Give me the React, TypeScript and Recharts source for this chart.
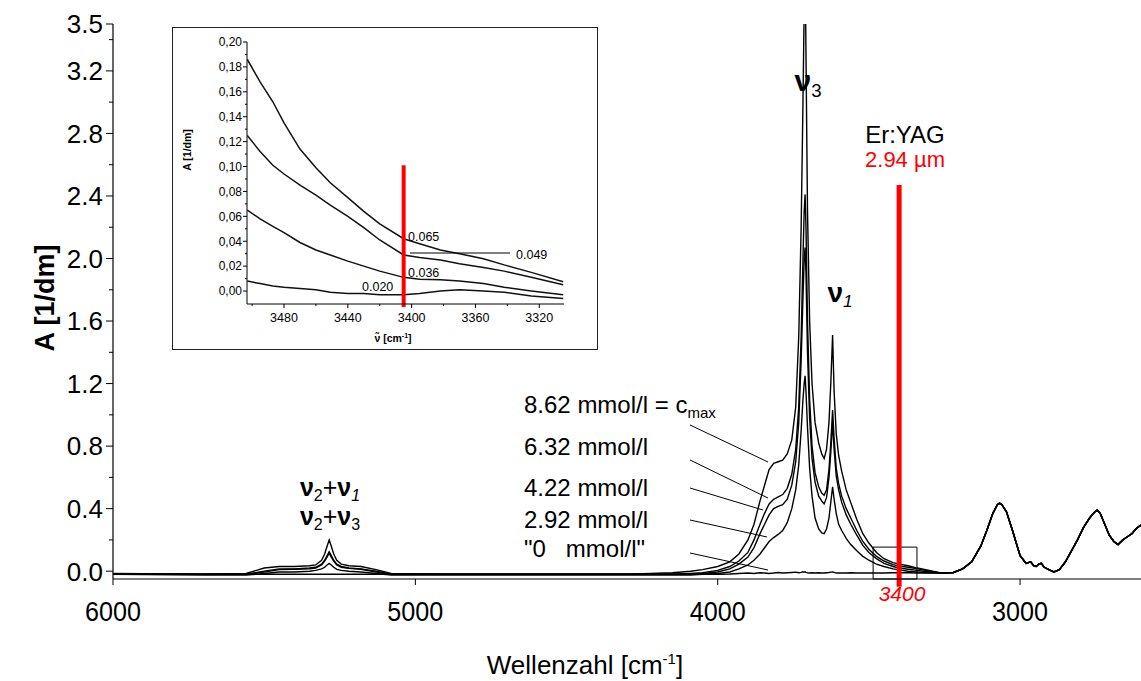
import React from "react";
import {
  LineChart,
  Line,
  XAxis,
  YAxis,
  ReferenceLine,
  ReferenceArea,
} from "recharts";

// Wavenumbers (cm-1) for the water region, 6000 down to 3300
const waterGrid = [
  6000, 5700, 5560, 5500, 5450, 5400, 5350, 5330, 5310, 5300,
  5292, 5285, 5278, 5270, 5260, 5245, 5220, 5180, 5130, 5080,
  4900, 4600, 4300, 4150, 4090, 4050, 4000, 3960, 3930, 3900,
  3880, 3860, 3845, 3830, 3815, 3800, 3785, 3770, 3755, 3742,
  3732, 3724, 3718, 3714, 3711, 3708, 3703, 3696, 3688, 3678,
  3666, 3656, 3648, 3640, 3632, 3626, 3620, 3615, 3608, 3600,
  3590, 3575, 3560, 3540, 3520, 3500, 3475, 3450, 3420, 3400,
  3370, 3340, 3300,
];

// 8.62 mmol/l = c_max
const c862 = [
  -0.02, -0.02, -0.015, 0.02, 0.03, 0.03, 0.035, 0.04, 0.07, 0.11,
  0.16, 0.2, 0.16, 0.11, 0.07, 0.045, 0.035, 0.03, 0.01, -0.015,
  -0.02, -0.02, -0.02, -0.01, 0.0, 0.01, 0.03, 0.06, 0.11, 0.2,
  0.3, 0.45, 0.55, 0.65, 0.69, 0.7, 0.71, 0.75, 0.84, 1.05,
  1.5, 2.2, 3.0, 3.6, 3.9, 3.3, 2.3, 1.6, 1.2, 0.95,
  0.82, 0.75, 0.72, 0.78, 0.95, 1.2, 1.51, 1.15, 0.88, 0.74,
  0.64, 0.52, 0.44, 0.33, 0.24, 0.18, 0.12, 0.08, 0.055, 0.045,
  0.035, 0.02, 0.005,
];

// 6.32 mmol/l
const c632 = [
  -0.02, -0.02, -0.02, 0.0, 0.015, 0.015, 0.02, 0.025, 0.045, 0.07,
  0.1, 0.125, 0.1, 0.07, 0.045, 0.03, 0.02, 0.015, 0.0, -0.02,
  -0.02, -0.02, -0.02, -0.02, -0.015, -0.01, 0.005, 0.03, 0.065, 0.12,
  0.2, 0.3, 0.37, 0.43, 0.46, 0.475, 0.49, 0.53, 0.62, 0.78,
  1.05, 1.5, 2.0, 2.3, 2.41, 2.2, 1.6, 1.1, 0.8, 0.63,
  0.54, 0.5, 0.485, 0.52, 0.65, 0.82, 1.03, 0.85, 0.66, 0.56,
  0.48, 0.4, 0.34, 0.26, 0.19, 0.14, 0.095, 0.065, 0.042, 0.032,
  0.025, 0.015, 0.0,
];

// 4.22 mmol/l
const c422 = [
  -0.02, -0.02, -0.02, -0.005, 0.01, 0.012, 0.015, 0.02, 0.04, 0.065,
  0.09, 0.115, 0.09, 0.065, 0.04, 0.025, 0.018, 0.012, -0.005, -0.02,
  -0.02, -0.02, -0.02, -0.02, -0.02, -0.015, -0.005, 0.015, 0.045, 0.09,
  0.15, 0.24, 0.3, 0.36, 0.4, 0.415, 0.425, 0.46, 0.55, 0.7,
  0.95, 1.35, 1.75, 2.0, 2.07, 1.9, 1.4, 0.98, 0.72, 0.57,
  0.48, 0.45, 0.43, 0.47, 0.6, 0.76, 0.95, 0.78, 0.61, 0.52,
  0.44, 0.36, 0.3, 0.23, 0.165, 0.12, 0.08, 0.05, 0.03, 0.02,
  0.012, 0.005, -0.005,
];

// 2.92 mmol/l
const c292 = [
  -0.02, -0.025, -0.025, -0.015, -0.005, -0.005, 0.0, 0.005, 0.015, 0.025,
  0.04, 0.05, 0.04, 0.025, 0.012, 0.005, 0.0, -0.005, -0.015, -0.025,
  -0.025, -0.025, -0.025, -0.025, -0.025, -0.02, -0.015, -0.005, 0.015, 0.04,
  0.07, 0.11, 0.15, 0.19, 0.215, 0.235, 0.26, 0.31, 0.4, 0.52,
  0.68, 0.9, 1.1, 1.2, 1.25, 1.15, 0.92, 0.66, 0.48, 0.34,
  0.27, 0.245, 0.24, 0.27, 0.34, 0.44, 0.54, 0.46, 0.37, 0.3,
  0.26, 0.21, 0.17, 0.13, 0.095, 0.07, 0.045, 0.03, 0.015, 0.008,
  0.0, -0.005, -0.01,
];

// "0 mmol/l" reference
const c0 = [
  -0.015, -0.02, -0.02, -0.02, -0.02, -0.02, -0.02, -0.02, -0.02, -0.02,
  -0.02, -0.02, -0.02, -0.02, -0.02, -0.02, -0.02, -0.02, -0.02, -0.02,
  -0.02, -0.02, -0.02, -0.02, -0.02, -0.02, -0.02, -0.018, -0.015, -0.012,
  -0.015, -0.01, -0.012, -0.015, -0.012, -0.008, -0.012, -0.01, -0.008, -0.006,
  -0.01, -0.008, -0.004, -0.006, -0.004, -0.008, -0.01, -0.012, -0.01, -0.012,
  -0.01, -0.012, -0.012, -0.01, -0.008, -0.006, -0.005, -0.008, -0.012, -0.012,
  -0.012, -0.012, -0.01, -0.012, -0.012, -0.012, -0.012, -0.012, -0.01, -0.01,
  -0.01, -0.012, -0.012,
];

// Solvent bands below 3300 cm-1, common to all samples
const solventGrid = [
  3260, 3220, 3190, 3160, 3130, 3110, 3090, 3075, 3068, 3060,
  3045, 3025, 3000, 2980, 2965, 2955, 2947, 2938, 2930, 2920,
  2905, 2888, 2870, 2850, 2830, 2810, 2790, 2770, 2755, 2745,
  2735, 2722, 2705, 2690, 2676, 2660, 2645, 2630, 2615, 2600,
];
const solventBand = [
  -0.012, -0.008, 0.015, 0.06, 0.16, 0.26, 0.37, 0.425, 0.435, 0.425,
  0.38, 0.26, 0.1, 0.05, 0.06, 0.035, 0.03, 0.045, 0.05, 0.025,
  0.01, -0.005, 0.01, 0.06, 0.13, 0.2, 0.28, 0.34, 0.375, 0.39,
  0.37, 0.31, 0.23, 0.19, 0.17, 0.2, 0.22, 0.24, 0.275, 0.295,
];

// Zoomed window around the Er:YAG line
const insetGrid = [3503, 3495, 3487, 3480, 3470, 3460, 3451, 3440, 3430, 3420, 3405, 3395, 3382, 3370, 3355, 3342, 3325, 3305];
const insetC862 = [0.186, 0.168, 0.152, 0.135, 0.114, 0.099, 0.087, 0.075, 0.064, 0.054, 0.042, 0.038, 0.033, 0.03, 0.026, 0.021, 0.015, 0.0075];
const insetC632 = [0.125, 0.112, 0.101, 0.094, 0.085, 0.077, 0.069, 0.06, 0.051, 0.041, 0.029, 0.027, 0.025, 0.022, 0.019, 0.016, 0.011, 0.005];
const insetC422 = [0.065, 0.058, 0.052, 0.047, 0.039, 0.033, 0.029, 0.024, 0.02, 0.016, 0.011, 0.0095, 0.009, 0.008, 0.006, 0.003, 0.0, -0.003];
const insetC292 = [0.008, 0.006, 0.004, 0.003, 0.002, 0.001, -0.001, -0.002, -0.002, -0.003, -0.003, -0.002, 0.0, 0.001, 0.0, -0.001, -0.004, -0.006];
const insetReadings = ["0.065", "0.049", "0.036", "0.020"];

const concLabels = ["6.32 mmol/l", "4.22 mmol/l", "2.92 mmol/l"];

const mainYTicks = [0, 0.2, 0.4, 0.6, 0.8, 1.0, 1.2, 1.4, 1.6, 1.8, 2.0, 2.2, 2.4, 2.6, 2.8, 3.0, 3.2, 3.4, 3.5];
const mainYMajor = [0, 0.4, 0.8, 1.2, 1.6, 2.0, 2.4, 2.8, 3.2, 3.5];
const mainXTicks = [6000, 5000, 4000, 3000];
const insetYTicks = Array.from({ length: 21 }, (_, i) => i / 100);
const insetXTicks = [3500, 3480, 3460, 3440, 3420, 3400, 3380, 3360, 3340, 3320];

const rows = [
  ...waterGrid.map((w, i) => ({ w, c862: c862[i], c632: c632[i], c422: c422[i], c292: c292[i], c0: c0[i] })),
  ...solventGrid.map((w, i) => ({
    w,
    c862: solventBand[i],
    c632: solventBand[i],
    c422: solventBand[i],
    c292: solventBand[i],
    c0: solventBand[i],
  })),
];

const insetRows = insetGrid.map((w, i) => ({
  w,
  c862: insetC862[i],
  c632: insetC632[i],
  c422: insetC422[i],
  c292: insetC292[i],
}));

const FONT = "'Liberation Sans', Arial, sans-serif";
const seriesKeys = ["c862", "c632", "c422", "c292", "c0"];

const MainYTick = ({ x, y, payload }: any) => {
  const major = mainYMajor.some((m) => Math.abs(m - payload.value) < 1e-6);
  return (
    <g>
      <line x1={x - (major ? 7 : 4)} x2={x} y1={y} y2={y} stroke="#000" strokeWidth={1} />
      {major && (
        <text x={x - 10} y={y} dy="0.36em" textAnchor="end" fontSize={26} fontFamily={FONT} fill="#000">
          {payload.value.toFixed(1)}
        </text>
      )}
    </g>
  );
};

const MainXTick = ({ x, y, payload }: any) => (
  <g>
    <line x1={x} x2={x} y1={y} y2={y + 6} stroke="#000" strokeWidth={1} />
    <text x={x} y={y + 42} textAnchor="middle" fontSize={28} fontFamily={FONT} fill="#000"
      textLength={56} lengthAdjust="spacingAndGlyphs">
      {payload.value}
    </text>
  </g>
);

const InsetYTick = ({ x, y, payload }: any) => {
  const k = Math.round(payload.value * 100);
  const major = k % 2 === 0;
  return (
    <g>
      <line x1={x - (major ? 4 : 2)} x2={x} y1={y} y2={y} stroke="#000" strokeWidth={1} />
      {major && (
        <text x={x - 5} y={y} dy="0.36em" textAnchor="end" fontSize={12} fontFamily={FONT} fill="#000">
          {"0," + String(k).padStart(2, "0")}
        </text>
      )}
    </g>
  );
};

const InsetXTick = ({ x, y, payload }: any) => {
  const major = payload.value % 40 === 0;
  return (
    <g>
      <line x1={x} x2={x} y1={y} y2={y + (major ? 4 : 2)} stroke="#000" strokeWidth={1} />
      {major && (
        <text x={x} y={y + 18} textAnchor="middle" fontSize={12.5} fontFamily={FONT} fill="#000">
          {payload.value}
        </text>
      )}
    </g>
  );
};

const Nu = ({ sub, italic }: { sub: string; italic?: boolean }) => (
  <>
    <tspan fontWeight="bold">ν</tspan>
    <tspan fontSize="0.62em" dy="0.3em" fontStyle={italic ? "italic" : "normal"}>{sub}</tspan>
    <tspan dy="-0.3em"> </tspan>
  </>
);

export default function App() {
  return (
    <div style={{ position: "absolute", left: 0, top: 0, width: 1141, height: 681, background: "#fff", overflow: "hidden" }}>
      <LineChart width={1141} height={681} data={rows} margin={{ top: 24, right: 0, bottom: 42, left: 0 }}>
        <XAxis
          dataKey="w"
          type="number"
          domain={[2600, 6000]}
          reversed
          allowDataOverflow
          ticks={mainXTicks}
          interval={0}
          height={60}
          tickSize={0}
          tickMargin={0}
          tickLine={false}
          axisLine={{ stroke: "#000", strokeWidth: 1.2 }}
          tick={<MainXTick />}
        />
        <YAxis
          type="number"
          domain={[-0.05, 3.5]}
          allowDataOverflow
          ticks={mainYTicks}
          interval={0}
          width={113}
          tickSize={0}
          tickMargin={0}
          tickLine={false}
          axisLine={{ stroke: "#000", strokeWidth: 1.2 }}
          tick={<MainYTick />}
        />
        <ReferenceArea x1={3486} x2={3341} y1={-0.05} y2={0.154} fill="none" fillOpacity={0} stroke="#000" strokeWidth={1} ifOverflow="visible" />
        {seriesKeys.map((k) => (
          <Line key={k} dataKey={k} type="linear" stroke="#000" strokeWidth={1.4} dot={false} isAnimationActive={false} />
        ))}
        <ReferenceLine
          segment={[{ x: 3400, y: 2.47 }, { x: 3400, y: -0.1 }]}
          stroke="#ff0000"
          strokeWidth={5}
          ifOverflow="visible"
        />
      </LineChart>

      {/* inset: absorbance near 3400 cm-1 */}
      <div style={{ position: "absolute", left: 172, top: 27, width: 426, height: 323, border: "1px solid #222", boxSizing: "border-box", background: "#fff" }}>
        <LineChart width={424} height={321} data={insetRows} margin={{ top: 14, right: 33, bottom: 15, left: 0 }}>
          <XAxis
            dataKey="w"
            type="number"
            domain={[3304.5, 3503.2]}
            reversed
            allowDataOverflow
            ticks={insetXTicks}
            interval={0}
            height={30}
            tickSize={0}
            tickMargin={0}
            tickLine={false}
            axisLine={{ stroke: "#000" }}
            tick={<InsetXTick />}
          />
          <YAxis
            type="number"
            domain={[-0.0104, 0.2]}
            allowDataOverflow
            ticks={insetYTicks}
            interval={0}
            width={74}
            tickSize={0}
            tickMargin={0}
            tickLine={false}
            axisLine={{ stroke: "#000" }}
            tick={<InsetYTick />}
          />
          {["c862", "c632", "c422", "c292"].map((k) => (
            <Line key={k} dataKey={k} type="linear" stroke="#111" strokeWidth={1.5} dot={false} isAnimationActive={false} />
          ))}
          <ReferenceLine
            segment={[{ x: 3405, y: 0.101 }, { x: 3405, y: -0.0128 }]}
            stroke="#ff0000"
            strokeWidth={4}
            ifOverflow="visible"
          />
        </LineChart>
      </div>

      <svg width={1141} height={681} style={{ position: "absolute", left: 0, top: 0, pointerEvents: "none" }} fontFamily={FONT}>
        {/* inset annotations */}
        <text x={191} y={150} transform="rotate(-90 191 150)" textAnchor="middle" fontSize={10.5} fontWeight="bold">A [1/dm]</text>
        <text x={393} y={342} textAnchor="middle" fontSize={10.5} fontWeight="bold">
          ν̃ [cm<tspan fontSize={7} dy={-4}>-1</tspan><tspan dy={4}>]</tspan>
        </text>
        <text x={408} y={241} fontSize={12.5}>{insetReadings[0]}</text>
        <line x1={410} y1={253} x2={510} y2={253} stroke="#000" strokeWidth={1} />
        <text x={516} y={259} fontSize={12.5}>{insetReadings[1]}</text>
        <text x={408} y={277} fontSize={12.5}>{insetReadings[2]}</text>
        <text x={362} y={291} fontSize={12.5}>{insetReadings[3]}</text>

        {/* band assignments */}
        <text x={808} y={91} textAnchor="middle" fontSize={30}><Nu sub="3" /></text>
        <text x={840} y={302} textAnchor="middle" fontSize={28}><Nu sub="1" italic /></text>
        <text x={330} y={496} textAnchor="middle" fontSize={25}>
          <tspan fontWeight="bold">ν</tspan><tspan fontSize={16} dy={5}>2</tspan>
          <tspan dy={-5}>+</tspan><tspan fontWeight="bold">ν</tspan><tspan fontSize={16} dy={5} fontStyle="italic">1</tspan>
        </text>
        <text x={330} y={525} textAnchor="middle" fontSize={25}>
          <tspan fontWeight="bold">ν</tspan><tspan fontSize={16} dy={5}>2</tspan>
          <tspan dy={-5}>+</tspan><tspan fontWeight="bold">ν</tspan><tspan fontSize={16} dy={5}>3</tspan>
        </text>

        {/* laser line */}
        <text x={905} y={143} textAnchor="middle" fontSize={24}>Er:YAG</text>
        <text x={905} y={167} textAnchor="middle" fontSize={22} fill="#ff0000">2.94 µm</text>
        <text x={902} y={601} textAnchor="middle" fontSize={21} fontStyle="italic" fill="#ff0000">3400</text>

        {/* concentrations */}
        <text x={524} y={413} fontSize={24}>
          8.62 mmol/l = c<tspan fontSize={15} dy={5}>max</tspan>
        </text>
        {concLabels.map((t, i) => (
          <text key={t} x={524} y={[455, 496, 528][i]} fontSize={24}>{t}</text>
        ))}
        <text x={524} y={557} fontSize={24} style={{ whiteSpace: "pre" }}>{'"0   mmol/l"'}</text>
        <g stroke="#000" strokeWidth={1}>
          <line x1={690} y1={425} x2={768} y2={462} />
          <line x1={690} y1={460} x2={768} y2={498} />
          <line x1={690} y1={488} x2={763} y2={510} />
          <line x1={690} y1={520} x2={767} y2={537} />
          <line x1={690} y1={553} x2={768} y2={570} />
        </g>

        {/* axis titles */}
        <text x={45} y={298} transform="rotate(-90 45 298)" textAnchor="middle" dy="0.35em" fontSize={27} fontWeight="bold">A [1/dm]</text>
        <text x={585} y={674} textAnchor="middle" fontSize={26}>
          Wellenzahl [cm<tspan fontSize={15} dy={-10}>-1</tspan><tspan dy={10}>]</tspan>
        </text>
      </svg>
    </div>
  );
}
